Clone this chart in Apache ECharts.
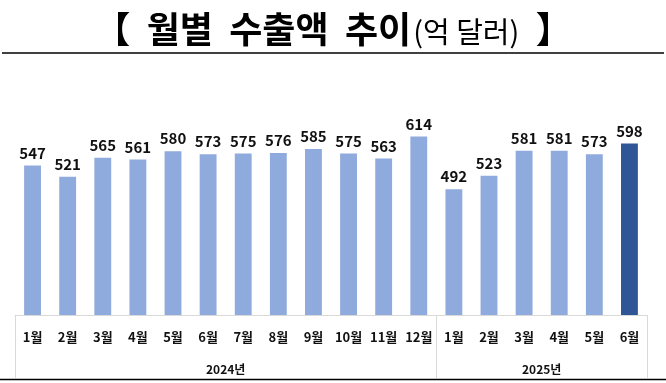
<!DOCTYPE html>
<html>
<head>
<meta charset="utf-8">
<script src="https://cdn.jsdelivr.net/npm/echarts@6/dist/echarts.min.js"></script>
<style>html,body{margin:0;padding:0;background:#fff}#c{width:666px;height:383px}</style>
</head>
<body>
<div id="c"></div>
<script>
const months = ['1월','2월','3월','4월','5월','6월','7월','8월','9월','10월','11월','12월','1월','2월','3월','4월','5월','6월'];
const values2024 = [547,521,565,561,580,573,575,576,585,575,563,614];
const values2025 = [492,523,581,581,573,598];
const years = ['2024년','2025년'];
const yearSpans = [12, 6];

const allValues = values2024.concat(values2025);
const lightColor = '#8FAADC';
const darkColor = '#2F5597';
const font = '"Noto Sans CJK KR", "Noto Sans", sans-serif';

// year boundaries and centres in category units
const bounds = [0];
yearSpans.forEach(s => bounds.push(bounds[bounds.length - 1] + s));
const centres = yearSpans.map((s, i) => bounds[i] + s / 2);

const chart = echarts.init(document.getElementById('c'));
chart.setOption({
  animation: false,
  title: {
    left: 'center',
    top: 6,
    text: '{a|【  월별  수출액  추이}{b|(억 달러)}{a|  】}',
    textStyle: {
      rich: {
        a: { fontFamily: font, fontSize: 36, fontWeight: 'bold', color: '#000', verticalAlign: 'bottom' },
        b: { fontFamily: font, fontSize: 29, fontWeight: 'normal', color: '#000', verticalAlign: 'bottom', padding: [0, 0, 1, 2] }
      }
    }
  },
  grid: { left: 15, right: 19, top: 99.5, bottom: 68, containLabel: false },
  xAxis: [
    {
      type: 'category',
      data: months,
      position: 'bottom',
      axisLine: { show: true, lineStyle: { color: '#D9D9D9', width: 1 } },
      axisTick: { show: false },
      axisLabel: { margin: 16, fontFamily: font, fontSize: 13, fontWeight: 'bold', color: '#111', interval: 0 }
    },
    {
      type: 'value',
      min: 0,
      max: bounds[bounds.length - 1],
      position: 'bottom',
      axisLine: { show: false },
      splitLine: { show: false },
      axisTick: {
        show: true,
        customValues: bounds,
        length: 63,
        lineStyle: { color: '#D9D9D9', width: 1 }
      },
      axisLabel: {
        show: true,
        customValues: centres,
        margin: 48,
        fontFamily: font, fontSize: 12, fontWeight: 'bold', color: '#111',
        formatter: function (v) {
          const i = centres.indexOf(v);
          return i >= 0 ? years[i] : '';
        }
      }
    }
  ],
  yAxis: { type: 'value', min: 200, max: 700, show: false, splitLine: { show: false } },
  graphic: [
    { type: 'line', shape: { x1: 2, y1: 53, x2: 664, y2: 53 }, style: { stroke: '#000', lineWidth: 1.5 } },
    { type: 'line', shape: { x1: 0, y1: 379.5, x2: 666, y2: 379.5 }, style: { stroke: '#000', lineWidth: 1.5 } }
  ],
  series: [{
    type: 'bar',
    xAxisIndex: 0,
    barWidth: '48%',
    data: allValues.map((v, i) => ({
      value: v,
      itemStyle: { color: i === allValues.length - 1 ? darkColor : lightColor }
    })),
    label: {
      show: true,
      position: 'top',
      distance: 5,
      fontFamily: font, fontSize: 15, fontWeight: 'bold', color: '#111'
    }
  }]
});
</script>
</body>
</html>
